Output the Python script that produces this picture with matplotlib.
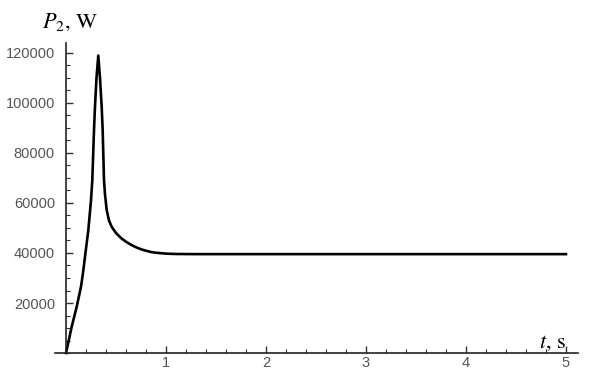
import numpy as np
import matplotlib.pyplot as plt
from matplotlib.ticker import MultipleLocator

t = [0, 0.03, 0.057, 0.107, 0.15, 0.17, 0.19, 0.223, 0.25, 0.263, 0.28, 0.29, 0.305,
     0.323, 0.34, 0.357, 0.367, 0.38, 0.39, 0.407, 0.43, 0.457, 0.5, 0.55, 0.6,
     0.65, 0.7, 0.75, 0.8, 0.85, 0.9, 1.0, 1.1, 1.3, 2.0, 3.0, 4.0, 5.0]
P = [0, 5500, 10500, 18500, 26500, 32000, 38500, 49000, 61000, 69000, 89000, 98500, 110000,
     119000, 110000, 98500, 89000, 69200, 63500, 57200, 53000, 50500, 48000, 46000, 44500,
     43300, 42300, 41500, 40900, 40400, 40100, 39750, 39600, 39550, 39550, 39550, 39550, 39550]

x_ticks = [1, 2, 3, 4, 5]
y_ticks = [20000, 40000, 60000, 80000, 100000, 120000]

fig = plt.figure(figsize=(5.9, 3.69), dpi=100)
ax = fig.add_axes([0.0932, 0.0298, 0.8864, 0.8537])

ax.plot(t, P, color="black", lw=1.9, solid_joinstyle="round")

ax.set_xlim(-0.11, 5.12)
ax.set_ylim(-2000, 124000)

for s in ["top", "right"]:
    ax.spines[s].set_visible(False)
ax.spines["left"].set_position(("data", 0))
ax.spines["bottom"].set_position(("data", 0))
ax.spines["left"].set_bounds(0, 124000)
for s in ["left", "bottom"]:
    ax.spines[s].set_linewidth(1.2)
    ax.spines[s].set_color("#222222")

ax.set_xticks(x_ticks)
ax.set_yticks(y_ticks)
ax.xaxis.set_minor_locator(MultipleLocator(0.2))
ax.yaxis.set_minor_locator(MultipleLocator(5000))
ax.tick_params(which="both", direction="in", color="#333333", labelcolor="#555555",
               labelsize=10.5)
ax.tick_params(which="major", length=5, width=1)
ax.tick_params(which="minor", length=3, width=0.8)
ax.tick_params(axis="y", pad=8)
ax.tick_params(axis="x", pad=2)
for lab in ax.get_xticklabels() + ax.get_yticklabels():
    lab.set_family("Liberation Sans")

fig.text(0.071, 0.925, r"$P_2\mathrm{,\,W}$", fontsize=16, math_fontfamily="stix")
fig.text(0.913, 0.058, r"$t\mathrm{,\,s}$", fontsize=16, math_fontfamily="stix")

plt.savefig("out.png", dpi=100)
